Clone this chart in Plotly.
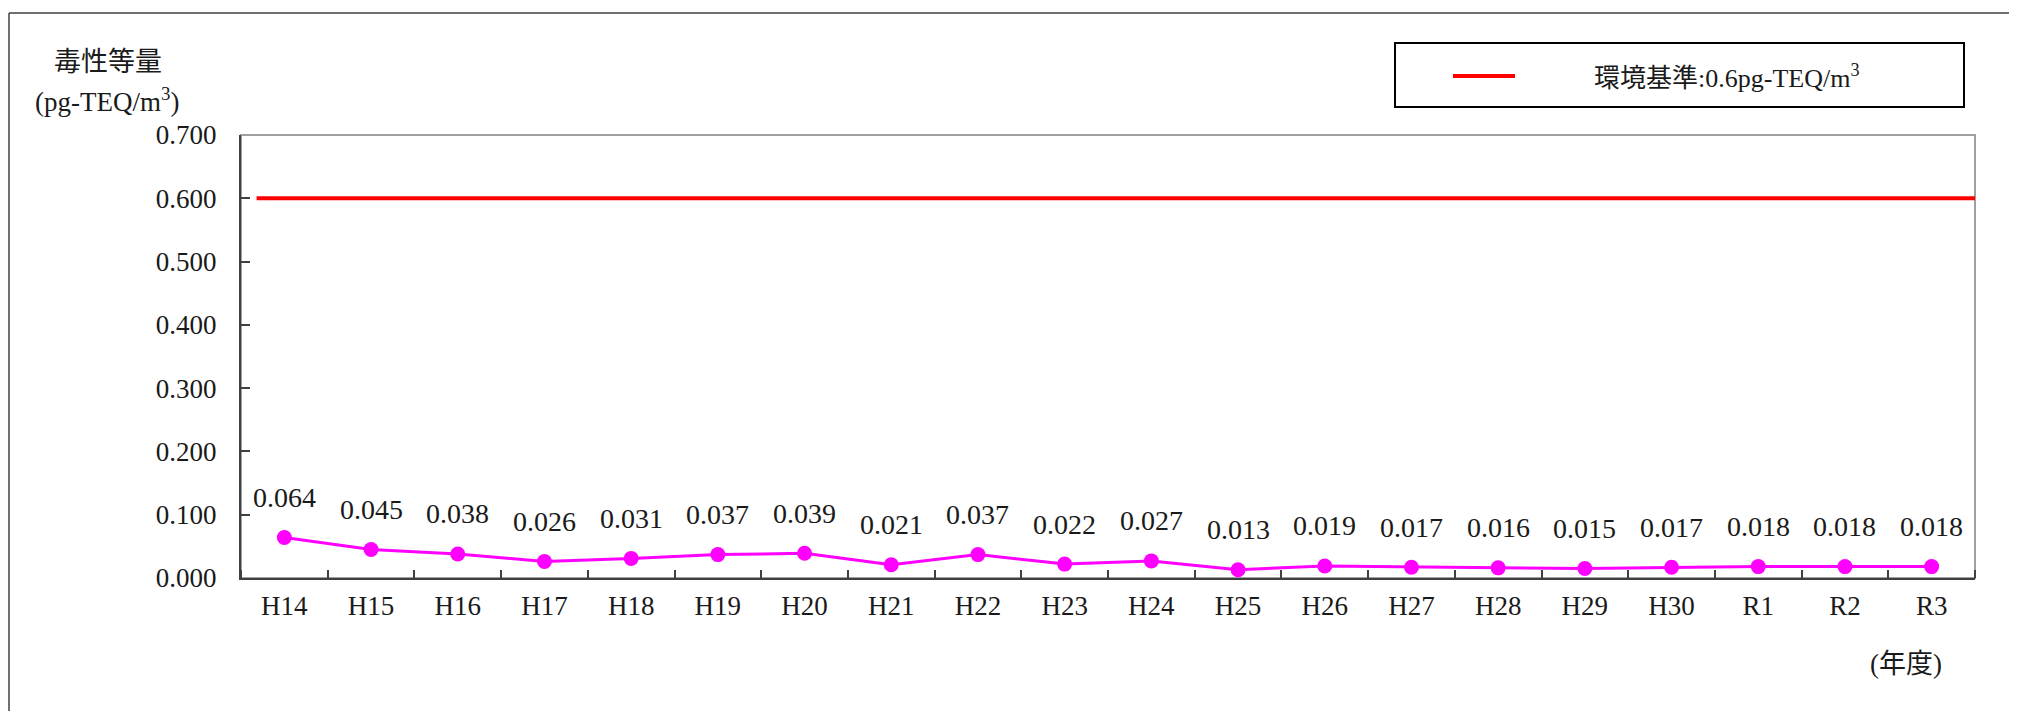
import plotly.graph_objects as go

# ---- data ----
years = ["H14", "H15", "H16", "H17", "H18", "H19", "H20", "H21", "H22", "H23",
         "H24", "H25", "H26", "H27", "H28", "H29", "H30", "R1", "R2", "R3"]
teq = [0.064, 0.045, 0.038, 0.026, 0.031, 0.037, 0.039, 0.021, 0.037, 0.022,
       0.027, 0.013, 0.019, 0.017, 0.016, 0.015, 0.017, 0.018, 0.018, 0.018]
standard = 0.6
y_ticks = [0.0, 0.1, 0.2, 0.3, 0.4, 0.5, 0.6, 0.7]

FONT = "'Liberation Serif', 'Noto Sans CJK JP', serif"
TXT = "#1a1a1a"

# page has an 8px body margin -> figure is offset by 8px
OFF = 8
W, H = 2017 - 2 * OFF, 719 - 2 * OFF
# plot area in page pixels
PL, PR, PT, PB = 241, 1975, 135, 578
L, R, T, B = PL - OFF, W - (PR - OFF), PT - OFF, H - (PB - OFF)
PW, PH = PR - PL, PB - PT


def px(x):
    return (x - PL) / PW


def py(y):
    return (PB - y) / PH


n = len(years)
xs = list(range(n))

fig = go.Figure()

# environmental standard line
fig.add_trace(go.Scatter(
    x=[-0.32, n - 0.5], y=[standard, standard], mode="lines",
    line=dict(color="#ff0000", width=4), hoverinfo="skip", showlegend=False,
    cliponaxis=False,
))

# measured values
fig.add_trace(go.Scatter(
    x=xs, y=teq, mode="lines+markers",
    line=dict(color="#ff00ff", width=3),
    marker=dict(color="#ff00ff", size=15),
    showlegend=False,
))

annotations = []
for i, v in enumerate(teq):
    annotations.append(dict(
        x=i, y=v, xref="x", yref="y", text=f"{v:.3f}", showarrow=False,
        yanchor="middle", xanchor="center", yshift=40,
        font=dict(family=FONT, size=28, color=TXT),
    ))

annotations += [
    dict(x=px(108), y=py(62), xref="paper", yref="paper", text="毒性等量",
         showarrow=False, xanchor="center", yanchor="middle",
         font=dict(family=FONT, size=27, color=TXT)),
    dict(x=px(107), y=py(100), xref="paper", yref="paper",
         text="(pg-TEQ/m<sup>3</sup>)", showarrow=False, xanchor="center",
         yanchor="middle", font=dict(family=FONT, size=27, color=TXT)),
    dict(x=px(1906), y=py(664), xref="paper", yref="paper", text="(年度)",
         showarrow=False, xanchor="center", yanchor="middle",
         font=dict(family=FONT, size=27, color=TXT)),
    dict(x=px(1592), y=py(76), xref="paper", yref="paper",
         text="環境基準:0.6pg-TEQ/m<sup>3</sup>", showarrow=False,
         xanchor="left", yanchor="middle",
         font=dict(family=FONT, size=26, color=TXT)),
]

shapes = [
    # plot-area frame (top/right grey)
    dict(type="rect", xref="paper", yref="paper", x0=0, x1=1, y0=0, y1=1,
         line=dict(color="#a0a0a0", width=2), layer="below"),
    # outer chart frame (left & top visible)
    dict(type="line", xref="paper", yref="paper", x0=px(9), x1=px(2040),
         y0=py(13), y1=py(13), line=dict(color="#404040", width=1.5)),
    dict(type="line", xref="paper", yref="paper", x0=px(9), x1=px(9),
         y0=py(13), y1=py(740), line=dict(color="#404040", width=1.5)),
    # legend box
    dict(type="rect", xref="paper", yref="paper", x0=px(1395), x1=px(1964),
         y0=py(107), y1=py(43), line=dict(color="#000000", width=2),
         fillcolor="white"),
    dict(type="line", xref="paper", yref="paper", x0=px(1453), x1=px(1515),
         y0=py(76), y1=py(76), line=dict(color="#ff0000", width=4)),
]

fig.update_layout(
    width=W, height=H,
    margin=dict(l=L, r=R, t=T, b=B, pad=0),
    paper_bgcolor="white", plot_bgcolor="white",
    font=dict(family=FONT, size=27, color=TXT),
    showlegend=False,
    annotations=annotations,
    shapes=shapes,
    xaxis=dict(
        range=[-0.5, n - 0.5], tickmode="array", tickvals=xs, ticktext=years,
        ticks="", showgrid=False, zeroline=False,
        showline=True, linecolor="#404040", linewidth=2,
        tickfont=dict(family=FONT, size=27, color=TXT),
        ticklabelstandoff=3,
        minor=dict(tickmode="linear", tick0=0.5, dtick=1, ticks="inside",
                   ticklen=8, tickcolor="#404040", tickwidth=1.5,
                   showgrid=False),
    ),
    yaxis=dict(
        range=[0, 0.7], tickmode="array", tickvals=y_ticks,
        tickformat=".3f", ticks="inside", ticklen=9, tickcolor="#404040",
        tickwidth=1.5, showgrid=False, zeroline=False,
        showline=True, linecolor="#404040", linewidth=2,
        tickfont=dict(family=FONT, size=27, color=TXT),
        ticklabelstandoff=17,
    ),
)

fig.write_html("out.html")
